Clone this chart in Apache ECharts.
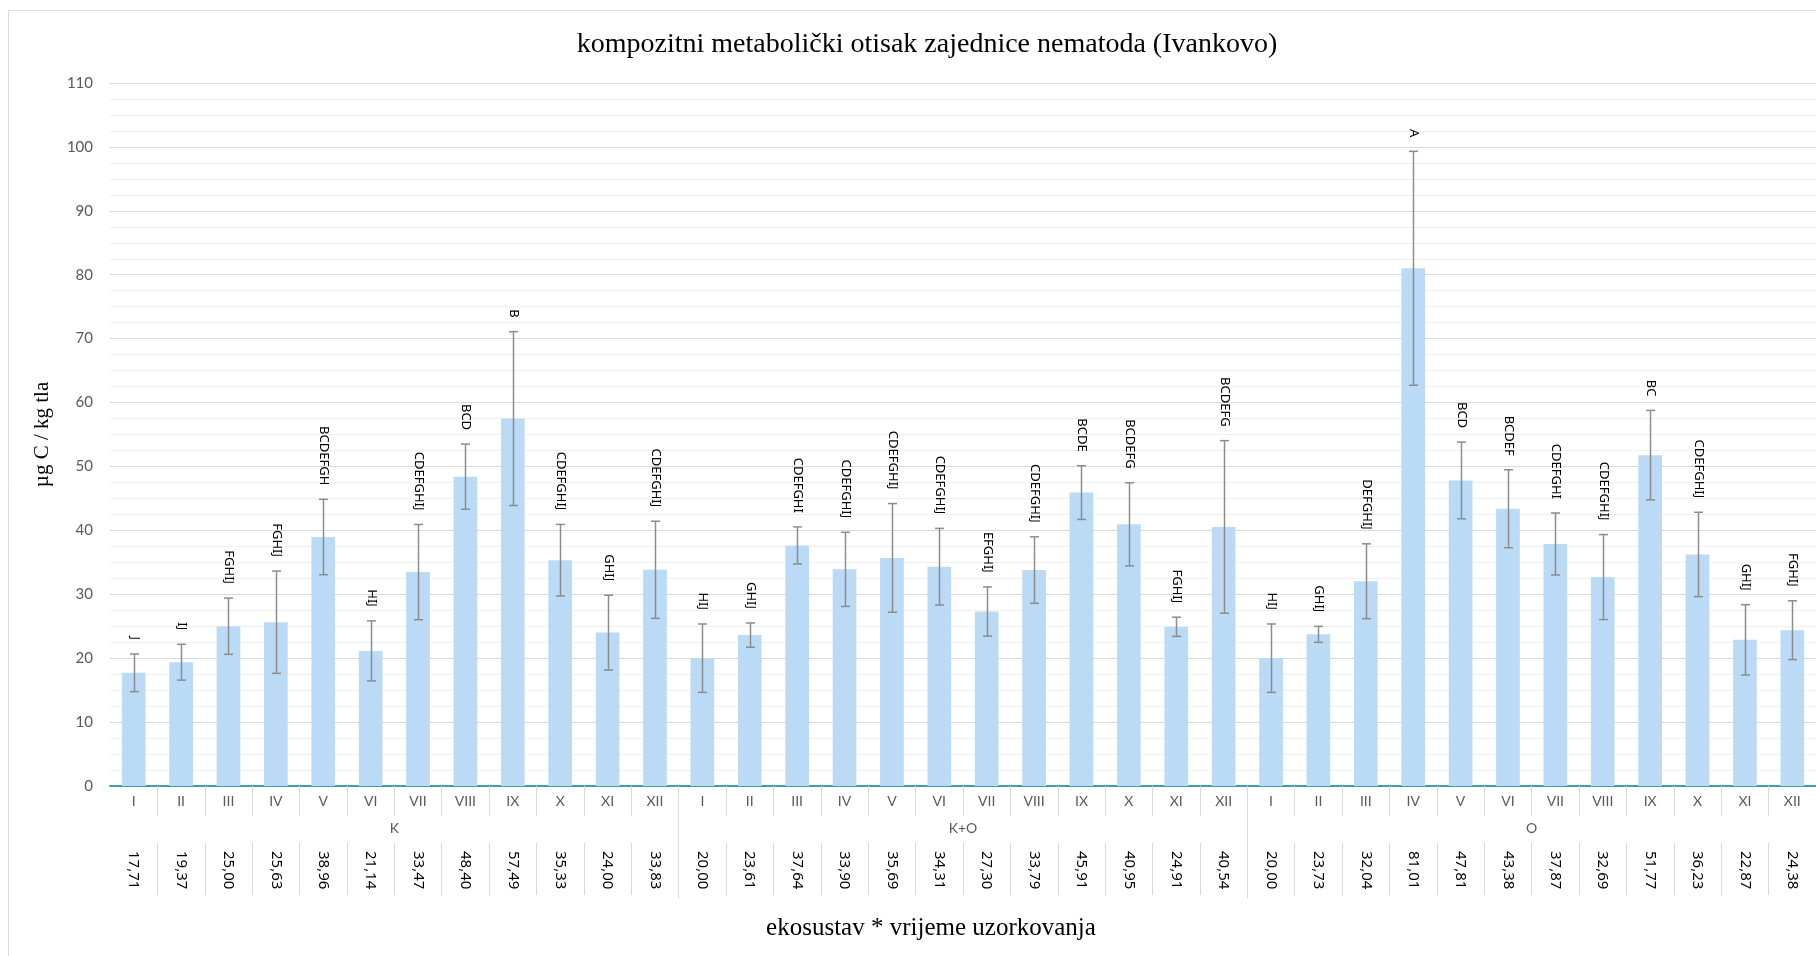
<!DOCTYPE html>
<html><head><meta charset="utf-8">
<script src="https://cdn.jsdelivr.net/npm/echarts@6/dist/echarts.min.js"></script>
<style>html,body{margin:0;padding:0;background:#fff}#c{width:1816px;height:956px}</style>
</head><body><div id="c"></div>
<script>
const months = ['I','II','III','IV','V','VI','VII','VIII','IX','X','XI','XII'];
const groups = ['K','K+O','O'];
const meanK  = [17.71,19.37,25.00,25.63,38.96,21.14,33.47,48.40,57.49,35.33,24.00,33.83];
const meanKO = [20.00,23.61,37.64,33.90,35.69,34.31,27.30,33.79,45.91,40.95,24.91,40.54];
const meanO  = [20.00,23.73,32.04,81.01,47.81,43.38,37.87,32.69,51.77,36.23,22.87,24.38];
const errK  = [2.95,2.8,4.4,8.0,5.9,4.7,7.45,5.1,13.6,5.6,5.85,7.6];
const errKO = [5.35,1.9,2.9,5.8,8.5,6.0,3.85,5.2,4.2,6.5,1.5,13.5];
const errO  = [5.35,1.25,5.85,18.3,6.0,6.1,4.85,6.65,7.0,6.6,5.5,4.6];
const lettersK  = ['J','IJ','FGHIJ','FGHIJ','BCDEFGH','HIJ','CDEFGHIJ','BCD','B','CDEFGHIJ','GHIJ','CDEFGHIJ'];
const lettersKO = ['HIJ','GHIJ','CDEFGHI','CDEFGHIJ','CDEFGHIJ','CDEFGHIJ','EFGHIJ','CDEFGHIJ','BCDE','BCDEFG','FGHIJ','BCDEFG'];
const lettersO  = ['HIJ','GHIJ','DEFGHIJ','A','BCD','BCDEF','CDEFGHI','CDEFGHIJ','BC','CDEFGHIJ','GHIJ','FGHIJ'];

const means = meanK.concat(meanKO, meanO);
const errs = errK.concat(errKO, errO);
const letters = lettersK.concat(lettersKO, lettersO);
const keys = [];
groups.forEach(g => months.forEach(m => keys.push(g + '|' + m)));
const errData = means.map((m, i) => [i, m - errs[i], m + errs[i]]);
const fmtNum = v => v.toFixed(2).replace('.', ',');
const sepInterval = (i) => i > 0;

const chart = echarts.init(document.getElementById('c'), null, {renderer: 'canvas'});
chart.setOption({
  animation: false,
  backgroundColor: '#fff',
  title: {
    text: 'kompozitni metabolički otisak zajednice nematoda (Ivankovo)',
    left: 922, top: 26, textAlign: 'center',
    textStyle: {fontFamily: 'Liberation Serif', fontSize: 28, fontWeight: 'normal', color: '#000'}
  },
  graphic: [{
    type: 'rect', silent: true,
    shape: {x: 8.5, y: 10.5, width: 2000, height: 2000},
    style: {fill: 'none', stroke: '#D9D9D9', lineWidth: 1}
  }],
  grid: {left: 110, right: 0, top: 83, bottom: 170, containLabel: false},
  xAxis: [
    {
      type: 'category', data: keys, position: 'bottom',
      axisLine: {show: true, lineStyle: {color: '#3BA1A7', width: 2}},
      axisTick: {show: true, length: 30, interval: sepInterval, lineStyle: {color: '#D9D9D9'}},
      axisLabel: {interval: 0, margin: 8, color: '#595959', fontSize: 14, fontFamily: 'Lato',
        formatter: v => v.split('|')[1]},
      splitLine: {show: false}
    },
    {
      type: 'category', data: groups, position: 'bottom',
      axisLine: {show: false},
      axisTick: {show: true, length: 112, interval: sepInterval, lineStyle: {color: '#D9D9D9'}},
      axisLabel: {interval: 0, margin: 35, color: '#595959', fontSize: 14, fontFamily: 'Lato'},
      splitLine: {show: false}
    },
    {
      type: 'category', data: keys, position: 'bottom', offset: 57,
      axisLine: {show: false},
      axisTick: {show: true, length: 52, interval: sepInterval, lineStyle: {color: '#D9D9D9'}},
      axisLabel: {interval: 0, rotate: -90, margin: 8, color: '#000', fontSize: 15, fontFamily: 'Noto Sans',
        formatter: (v, i) => fmtNum(means[i])},
      name: 'ekosustav * vrijeme uzorkovanja', nameLocation: 'middle', nameGap: 73,
      nameTextStyle: {fontFamily: 'Liberation Serif', fontSize: 25, color: '#000', padding: [0, 64, 0, 0]},
      splitLine: {show: false}
    }
  ],
  yAxis: {
    type: 'value', min: 0, max: 110, interval: 10,
    name: 'µg C / kg tla', nameLocation: 'middle', nameGap: 57,
    nameTextStyle: {fontFamily: 'Liberation Serif', fontSize: 21, color: '#000'},
    axisLine: {show: false}, axisTick: {show: false},
    axisLabel: {margin: 17, color: '#595959', fontSize: 15, fontFamily: 'Lato'},
    splitLine: {show: true, lineStyle: {color: '#D9D9D9', width: 1}},
    minorTick: {show: false, splitNumber: 4},
    minorSplitLine: {show: true, lineStyle: {color: '#F0F0F0', width: 1}}
  },
  series: [
    {
      type: 'bar', xAxisIndex: 0, data: means, barWidth: '50%',
      itemStyle: {color: '#BBDAF6'}, z: 2
    },
    {
      type: 'custom', xAxisIndex: 0, data: errData, z: 3,
      renderItem: (params, api) => {
        const idx = api.value(0);
        const pHi = api.coord([idx, api.value(2)]);
        const pLo = api.coord([idx, api.value(1)]);
        const x = Math.round(pHi[0]) + 0.5;
        const cap = 4.5;
        const ls = {stroke: '#8C8C8C', lineWidth: 1.5};
        return {
          type: 'group',
          children: [
            {type: 'line', shape: {x1: x, y1: pHi[1], x2: x, y2: pLo[1]}, style: ls},
            {type: 'line', shape: {x1: x - cap, y1: pHi[1], x2: x + cap, y2: pHi[1]}, style: ls},
            {type: 'line', shape: {x1: x - cap, y1: pLo[1], x2: x + cap, y2: pLo[1]}, style: ls},
            {type: 'text', x: x, y: pHi[1] - 14, rotation: -Math.PI / 2,
              style: {text: letters[params.dataIndex], align: 'right', verticalAlign: 'middle',
                fill: '#000', fontSize: 13, fontFamily: 'Noto Sans'}}
          ]
        };
      }
    }
  ]
});
</script>
</body></html>
